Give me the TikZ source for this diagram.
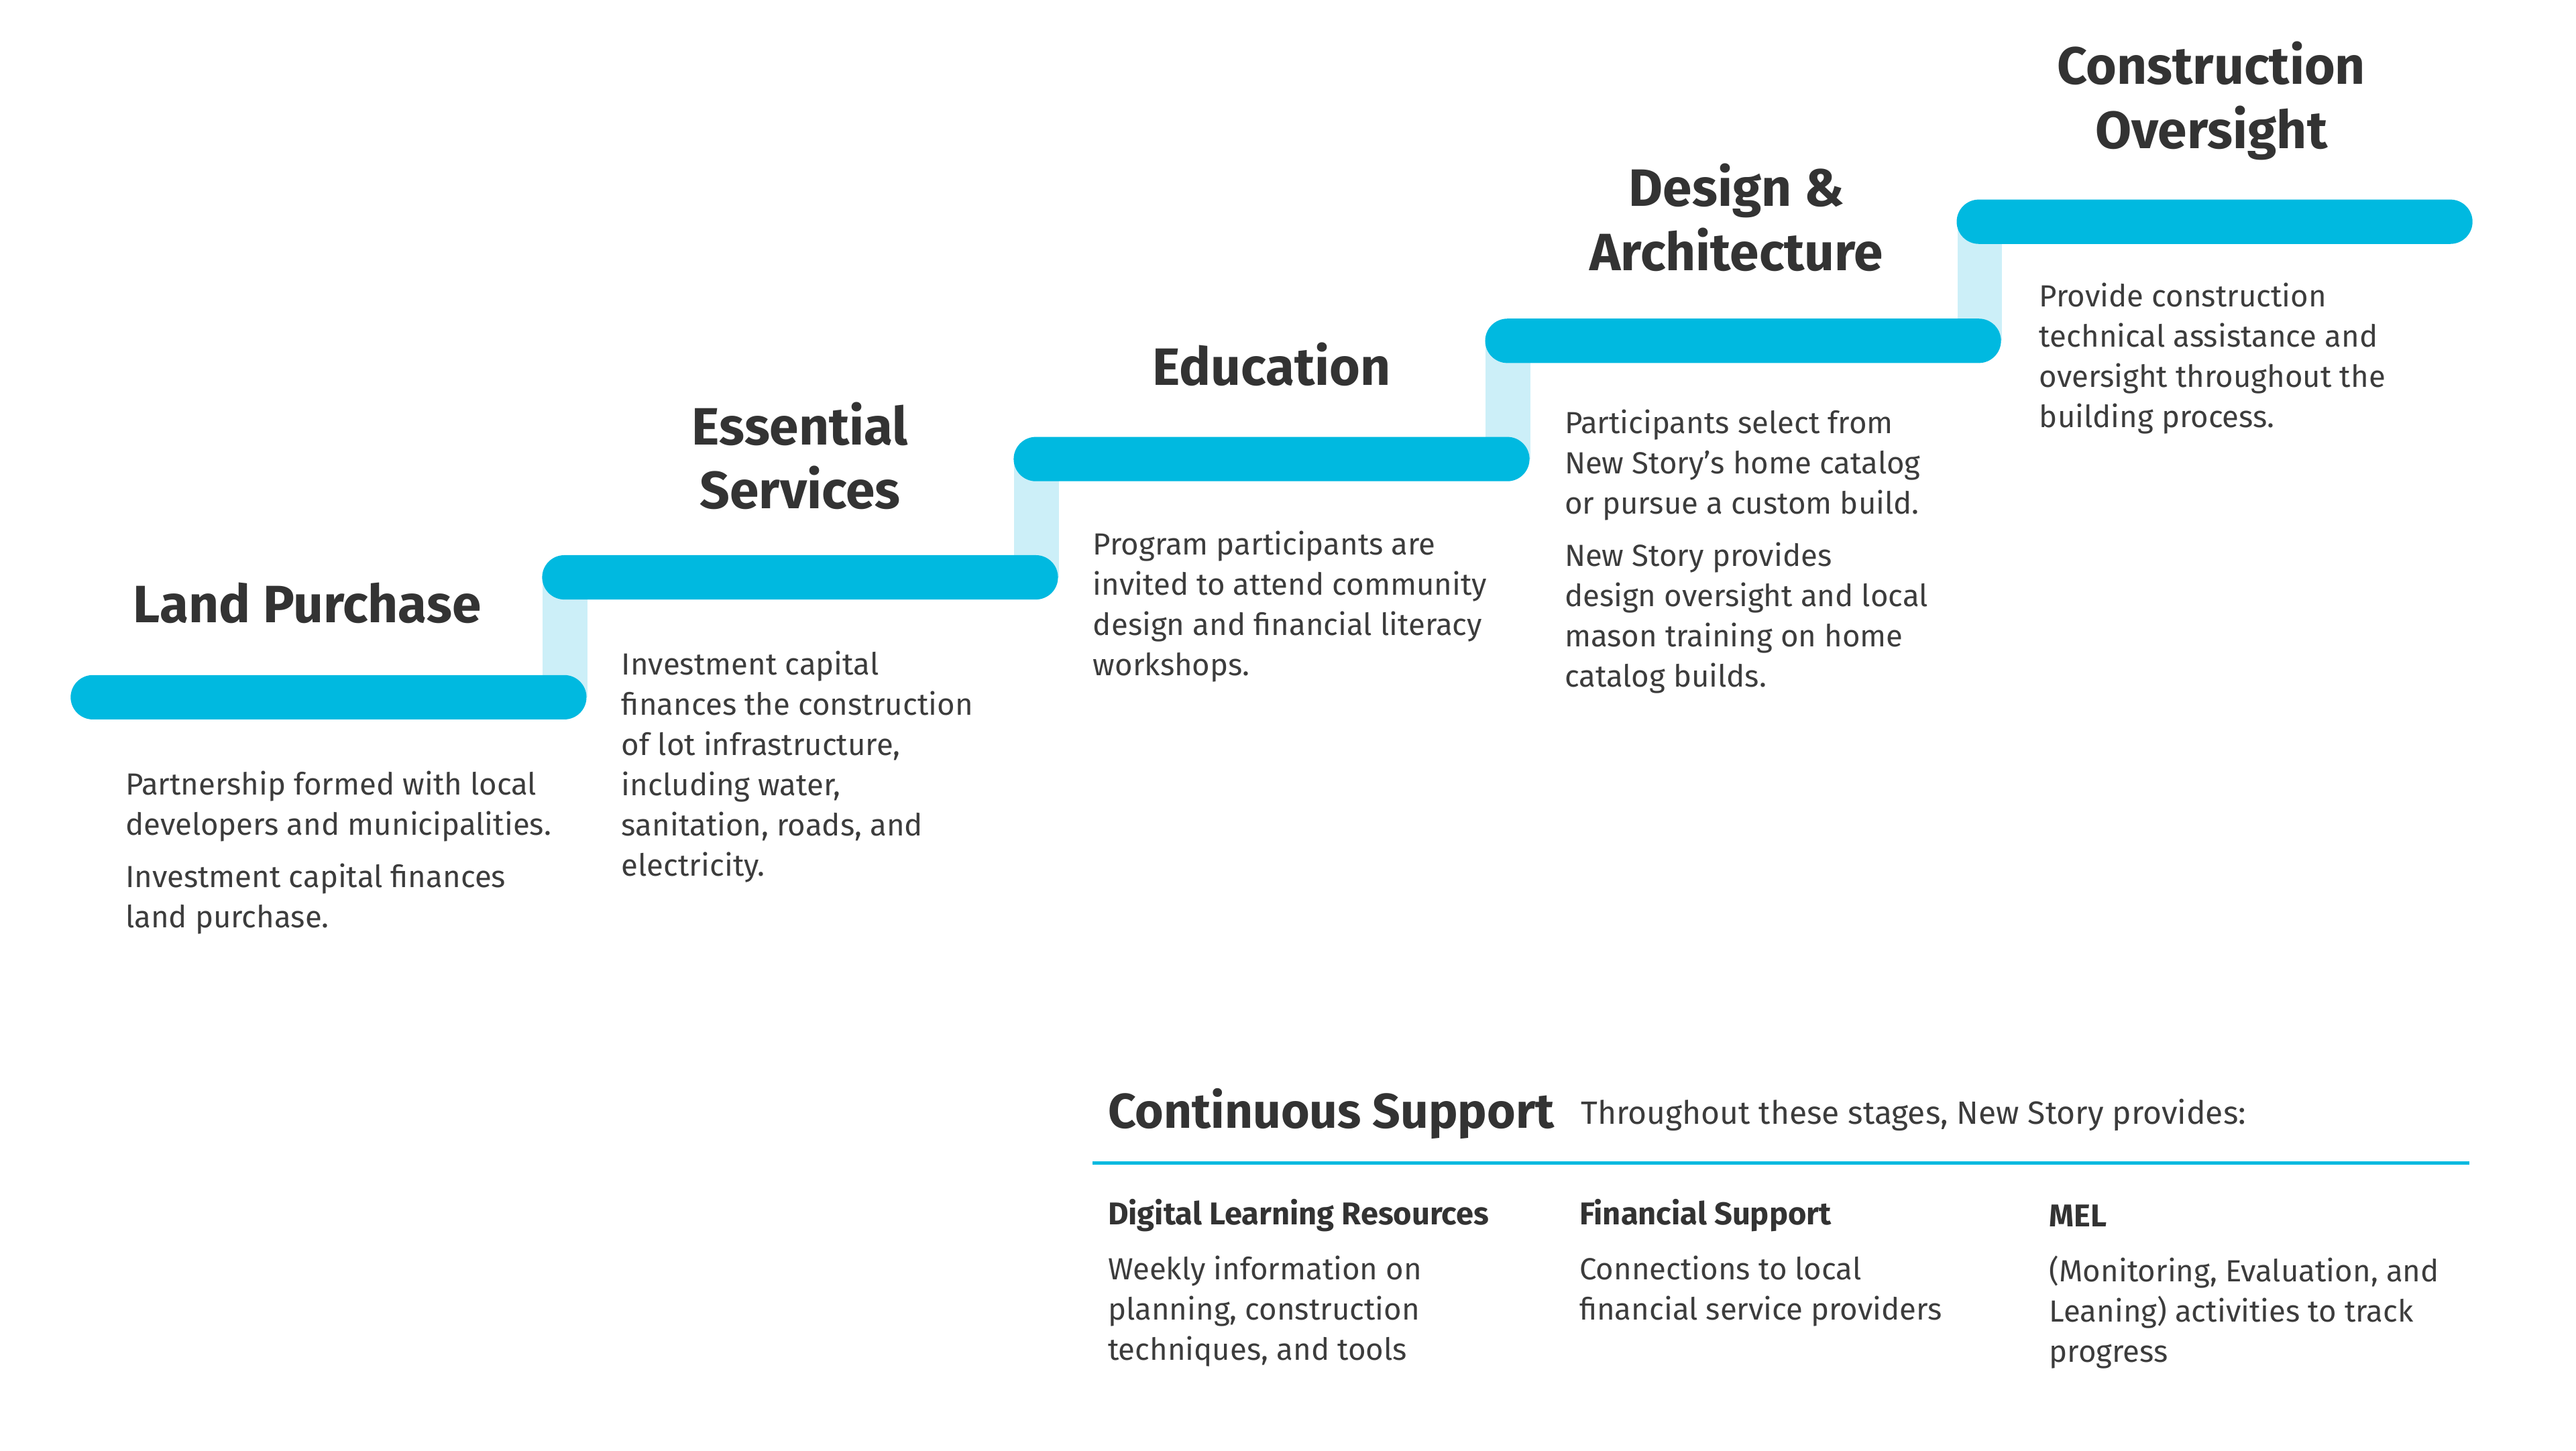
\documentclass[tikz,border=0pt]{standalone}
\usepackage{fontspec}
\setmainfont{Fira Sans}
\usetikzlibrary{backgrounds}
\definecolor{barblue}{HTML}{00B9E0}
\definecolor{riser}{HTML}{CCEFF8}
\definecolor{ink}{HTML}{333333}
\definecolor{bodyink}{HTML}{3C3C3C}
\tikzset{
 bar/.style={fill=barblue, draw=none, rounded corners=6.75pt, minimum width=157pt, minimum height=13.5pt, inner sep=0pt},
 riserline/.style={draw=riser, line width=13.5pt},
 head/.style={font=\fontsize{16}{19.5}\selectfont\bfseries, text=ink, align=center, inner sep=0pt},
 body/.style={font=\fontsize{9.3}{12.25}\selectfont, text=bodyink, align=left, anchor=north west, inner sep=0pt},
 subhead/.style={font=\fontsize{9.6}{12.25}\selectfont\bfseries, text=ink, anchor=west, inner sep=0pt},
 rule/.style={draw=barblue, line width=1pt},
}
\begin{document}
\begin{tikzpicture}[x=0.5pt,y=-0.5pt]
\useasboundingbox (0,0) rectangle (1568,883);
% bars
\node[bar] (b1) at (200,424.5) {};
\node[bar] (b2) at (487,351.5) {};
\node[bar] (b3) at (774,279.5) {};
\node[bar] (b4) at (1061,207.5) {};
\node[bar] (b5) at (1348,135) {};
\begin{pgfonlayer}{background}
\draw[riserline] ([xshift=-6.75pt]b1.east) -- ([xshift=-6.75pt]b1.east |- b2.center);
\draw[riserline] ([xshift=-6.75pt]b2.east) -- ([xshift=-6.75pt]b2.east |- b3.center);
\draw[riserline] ([xshift=-6.75pt]b3.east) -- ([xshift=-6.75pt]b3.east |- b4.center);
\draw[riserline] ([xshift=-6.75pt]b4.east) -- ([xshift=-6.75pt]b4.east |- b5.center);
\end{pgfonlayer}
% headings
\node[head] (h1) at (187,367) {Land Purchase};
\node[head] (h2) at (487,277.5) {Essential\\Services};
\node[head] (h3) at (774,222) {Education};
\node[head] (h4) at (1057,132.5) {Design \&\\Architecture};
\node[head] (h5) at (1346,61.5) {Construction\\Oversight};
% texts
\node[body] (t1) at (76,469) {Partnership formed with local\\developers and municipalities.\\[3.75pt]Investment capital finances\\land purchase.};
\node[body] (t2) at (378,396) {Investment capital\\finances the construction\\of lot infrastructure,\\including water,\\sanitation, roads, and\\electricity.};
\node[body] (t3) at (665,323) {Program participants are\\invited to attend community\\design and financial literacy\\workshops.};
\node[body] (t4) at (952,249) {Participants select from\\New Story’s home catalog\\or pursue a custom build.\\[3.75pt]New Story provides\\design oversight and local\\mason training on home\\catalog builds.};
\node[body] (t5) at (1241,172) {Provide construction\\technical assistance and\\oversight throughout the\\building process.};
% continuous support
\node[head, anchor=west, font=\fontsize{14.9}{18}\selectfont\bfseries] (cs) at (674,678) {Continuous Support};
\node[body, anchor=west, font=\fontsize{9.8}{12.25}\selectfont] (cst) at (962,679) {Throughout these stages, New Story provides:};
\coordinate (rl) at (665,708);
\coordinate (rr) at (1503,708);
\draw[rule] (rl) -- (rr);
\node[subhead] (s1) at (674,740) {Digital Learning Resources};
\node[subhead] (s2) at (961,740) {Financial Support};
\node[subhead] (s3) at (1247,740) {MEL};
\node[body] (d1) at (674,764) {Weekly information on\\planning, construction\\techniques, and tools};
\node[body] (d2) at (961,764) {Connections to local\\financial service providers};
\node[body] (d3) at (1247,764) {(Monitoring, Evaluation, and\\Leaning) activities to track\\progress};
\end{tikzpicture}
\end{document}
